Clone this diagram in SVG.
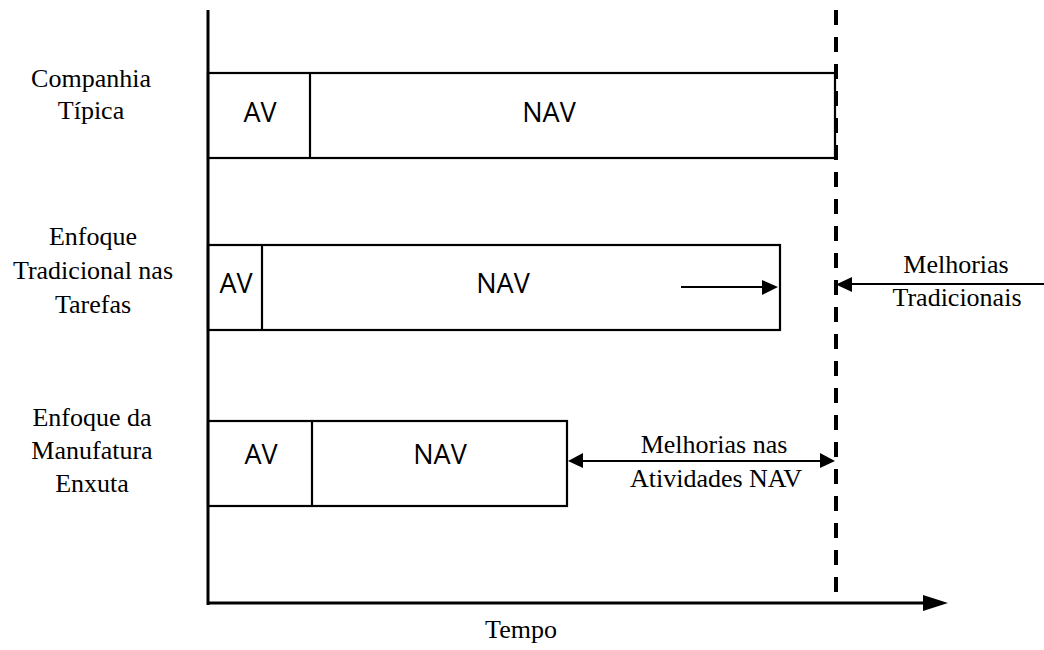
<svg xmlns="http://www.w3.org/2000/svg" width="1044" height="650" viewBox="0 0 1044 650">
<style>
.box{fill:#fff;stroke:#000;stroke-width:2.2}
.div{stroke:#000;stroke-width:2.2}
.sans{font-family:"Open Sans","DejaVu Sans",sans-serif;font-size:27px;fill:#000;text-anchor:middle}
.serif{font-family:"Liberation Serif","Times New Roman",serif;font-size:26px;fill:#000;text-anchor:middle}
.ln{stroke:#000;stroke-width:2.2;fill:none}
</style>
<rect width="1044" height="650" fill="#fff"/>
<g id="box1">
<rect class="box" x="208" y="73" width="627" height="85"/>
<line class="div" x1="310" y1="73" x2="310" y2="158"/>
<text class="sans" x="260" y="122">AV</text>
<text class="sans" x="549" y="122">NAV</text>
</g>
<g id="box2">
<rect class="box" x="208" y="245" width="572" height="85"/>
<line class="div" x1="262" y1="245" x2="262" y2="330"/>
<text class="sans" x="236" y="293">AV</text>
<text class="sans" x="503" y="293">NAV</text>
</g>
<g id="box3">
<rect class="box" x="208" y="421" width="359" height="85"/>
<line class="div" x1="312" y1="421" x2="312" y2="506"/>
<text class="sans" x="261" y="464">AV</text>
<text class="sans" x="440" y="464">NAV</text>
</g>
<g id="labels">
<text class="serif"><tspan x="91" y="87">Companhia</tspan><tspan x="91" y="119">Típica</tspan></text>
<text class="serif"><tspan x="93" y="245">Enfoque</tspan><tspan x="93" y="279">Tradicional nas</tspan><tspan x="93" y="313">Tarefas</tspan></text>
<text class="serif"><tspan x="92" y="426">Enfoque da</tspan><tspan x="92" y="459">Manufatura</tspan><tspan x="92" y="492">Enxuta</tspan></text>
<text class="serif"><tspan x="956" y="273">Melhorias</tspan><tspan x="957" y="306">Tradicionais</tspan></text>
<text class="serif"><tspan x="714" y="453">Melhorias nas</tspan><tspan x="716" y="487">Atividades NAV</tspan></text>
<text class="serif" x="521" y="638">Tempo</text>
</g>
<g id="connectors">
<line x1="208" y1="10" x2="208" y2="605" stroke="#000" stroke-width="3"/>
<line x1="836" y1="10" x2="836" y2="602" stroke="#000" stroke-width="4" stroke-dasharray="15 12"/>
<line x1="207" y1="603" x2="925" y2="603" stroke="#000" stroke-width="3"/>
<polygon points="923,595 948,603 923,611" fill="#000"/>
<line class="ln" x1="681" y1="287" x2="764" y2="287"/>
<polygon points="762,280 778,287 762,295" fill="#000"/>
<line class="ln" x1="850" y1="284" x2="1044" y2="284"/>
<polygon points="852,277 836,284.5 852,292" fill="#000"/>
<line class="ln" x1="582" y1="461" x2="822" y2="461"/>
<polygon points="583,453 568,461 583,468" fill="#000"/>
<polygon points="820,453 835,461 820,468" fill="#000"/>
</g>
</svg>
